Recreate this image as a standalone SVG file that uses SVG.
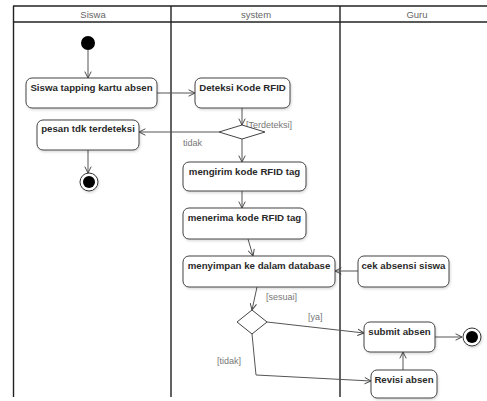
<svg xmlns="http://www.w3.org/2000/svg" width="487" height="401" viewBox="0 0 487 401">
<defs>
<marker id="arr" viewBox="0 0 10 10" refX="9" refY="5" markerWidth="8" markerHeight="8" orient="auto" markerUnits="userSpaceOnUse">
<path d="M1,1 L9,5 L1,9" fill="none" stroke="#444" stroke-width="1.2"/>
</marker>
<filter id="sh" x="-10%" y="-10%" width="130%" height="140%">
<feDropShadow dx="1" dy="1.5" stdDeviation="1" flood-color="#000" flood-opacity="0.15"/>
</filter>
</defs>
<style>
.lane{fill:none;stroke:#222;stroke-width:1.4}
.hdr{font-family:"Liberation Sans",Arial,sans-serif;font-size:9.5px;fill:#666;text-anchor:middle}
.box{fill:#fff;stroke:#444;stroke-width:1;filter:url(#sh)}
.lbl{font-family:"Liberation Sans",Arial,sans-serif;font-size:9.7px;font-weight:bold;fill:#2a2a2a;text-anchor:middle}
.edge{fill:none;stroke:#555;stroke-width:1;marker-end:url(#arr)}
.guard{font-family:"Liberation Sans",Arial,sans-serif;font-size:9px;fill:#777}
.dia{fill:#fff;stroke:#444;stroke-width:1}
</style>
<rect width="487" height="401" fill="#fff"/>
<g id="lanes">
<line class="lane" x1="13" y1="6" x2="487" y2="6"/>
<line class="lane" x1="13" y1="22" x2="487" y2="22"/>
<line class="lane" x1="13.5" y1="6" x2="13.5" y2="397"/>
<line class="lane" x1="171" y1="6" x2="171" y2="397"/>
<line class="lane" x1="340" y1="6" x2="340" y2="397"/>
<text class="hdr" x="93" y="18">Siswa</text>
<text class="hdr" x="256" y="18">system</text>
<text class="hdr" x="417" y="18">Guru</text>
</g>
<g id="connectors">
<line class="edge" x1="88" y1="50" x2="88" y2="78"/>
<line class="edge" x1="157" y1="93" x2="195" y2="93"/>
<line class="edge" x1="242" y1="108" x2="242" y2="125"/>
<line class="edge" x1="219" y1="132" x2="139" y2="132"/>
<line class="edge" x1="88" y1="150" x2="88" y2="173"/>
<line class="edge" x1="242" y1="139" x2="242" y2="162"/>
<line class="edge" x1="242" y1="191" x2="242" y2="208"/>
<line class="edge" x1="248" y1="239" x2="253" y2="256"/>
<line class="edge" x1="358" y1="271" x2="335" y2="271"/>
<line class="edge" x1="257" y1="287" x2="252" y2="310"/>
<line class="edge" x1="267" y1="322" x2="364" y2="333"/>
<line class="edge" x1="435" y1="337" x2="462" y2="337"/>
<line class="edge" x1="403" y1="370" x2="403" y2="352"/>
<polyline class="edge" points="252,334 256,375 371,381"/>
<text class="guard" x="246" y="128">[Terdeteksi]</text>
<text class="guard" x="183" y="146">tidak</text>
<text class="guard" x="266" y="300">[sesuai]</text>
<text class="guard" x="308" y="320">[ya]</text>
<text class="guard" x="217" y="364">[tidak]</text>
</g>
<g id="start"><circle cx="88" cy="43" r="7" fill="#000"/></g>
<g id="end1"><circle cx="89" cy="182" r="9" fill="#fff" stroke="#333" stroke-width="1" filter="url(#sh)"/><circle cx="89" cy="182" r="6" fill="#000"/></g>
<g id="end2"><circle cx="472" cy="337" r="9" fill="#fff" stroke="#333" stroke-width="1" filter="url(#sh)"/><circle cx="472" cy="337" r="6" fill="#000"/></g>
<g id="tapping"><rect class="box" x="26" y="78" width="131" height="30" rx="6"/><text class="lbl" x="91.5" y="91">Siswa tapping kartu absen</text></g>
<g id="deteksi"><rect class="box" x="195" y="78" width="95" height="30" rx="6"/><text class="lbl" x="242.5" y="91">Deteksi Kode RFID</text></g>
<g id="pesan"><rect class="box" x="37" y="120" width="102" height="30" rx="6"/><text class="lbl" x="88" y="132">pesan tdk terdeteksi</text></g>
<g id="dec1"><polygon class="dia" points="242,125 265,132 242,139 219,132"/></g>
<g id="mengirim"><rect class="box" x="183" y="162" width="123" height="29" rx="6"/><text class="lbl" x="244.5" y="175">mengirim kode RFID tag</text></g>
<g id="menerima"><rect class="box" x="183" y="208" width="123" height="31" rx="6"/><text class="lbl" x="244.5" y="221">menerima kode RFID tag</text></g>
<g id="menyimpan"><rect class="box" x="183" y="256" width="152" height="31" rx="6"/><text class="lbl" x="259" y="269">menyimpan ke dalam database</text></g>
<g id="cek"><rect class="box" x="358" y="256" width="91" height="31" rx="6"/><text class="lbl" x="403.5" y="269">cek absensi siswa</text></g>
<g id="dec2"><polygon class="dia" points="252,310 267,322 252,334 237,322"/></g>
<g id="submit"><rect class="box" x="364" y="322" width="71" height="30" rx="6"/><text class="lbl" x="399.5" y="335">submit absen</text></g>
<g id="revisi"><rect class="box" x="371" y="370" width="66" height="28" rx="6"/><text class="lbl" x="404" y="383">Revisi absen</text></g>
</svg>
